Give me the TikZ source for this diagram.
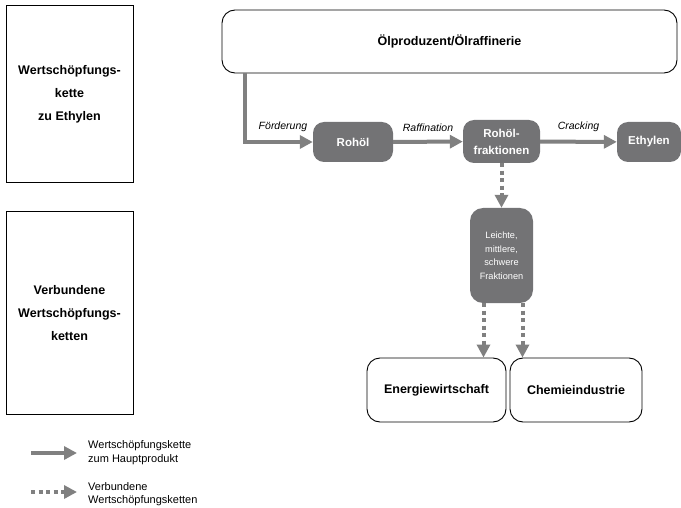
\documentclass[tikz,border=0pt]{standalone}
\usepackage{fontspec}
\setmainfont{Liberation Sans}
\usetikzlibrary{arrows.meta}
\definecolor{arrowgray}{RGB}{128,128,128}
\definecolor{nodegray}{RGB}{115,115,117}
\tikzset{
  sidebox/.style={draw=black, line width=0.8pt, minimum width=127pt, inner sep=0pt, align=center, font=\bfseries\fontsize{12.5}{23}\selectfont},
  whitebox/.style={draw=black, line width=0.9pt, rounded corners=13pt, inner sep=0pt, align=center, font=\bfseries\fontsize{12.5}{14}\selectfont},
  graybox/.style={fill=nodegray, rounded corners=11pt, inner sep=0pt, align=center, text=white, font=\bfseries\fontsize{11.5}{17}\selectfont},
  mainarrow/.style={draw=arrowgray, line width=4pt, -{Triangle[length=13pt,width=13pt]}},
  dasharrow/.style={draw=arrowgray, line width=4pt, dash pattern=on 4pt off 3.5pt, -{Triangle[length=13pt,width=13pt]}},
  arrowlabel/.style={font=\itshape\fontsize{10.5}{12}\selectfont, text=black, above=5pt},
  legendtext/.style={anchor=west, align=left, inner sep=0pt, font=\fontsize{11}{13.5}\selectfont}
}
\begin{document}
\begin{tikzpicture}[x=1pt,y=-1pt]
\useasboundingbox (0,0) rectangle (681,508);
% side boxes
\node[sidebox, minimum height=177pt] (kette) at (69.5,94) {Wertschöpfungs-\\kette\\zu Ethylen};
\node[sidebox, minimum height=203pt] (verb) at (69.5,313) {Verbundene\\Wertschöpfungs-\\ketten};
% top box
\node[whitebox, minimum width=455pt, minimum height=63pt] (oel) at (449.5,41.5) {Ölproduzent/Ölraffinerie};
% gray nodes
\node[graybox, minimum width=80pt, minimum height=40pt] (rohoel) at (353,142) {Rohöl};
\node[graybox, minimum width=77pt, minimum height=43pt] (frak) at (501.5,141.5) {Rohöl-\\fraktionen};
\node[graybox, minimum width=64pt, minimum height=40pt] (eth) at (649,142) {Ethylen};
\node[graybox, minimum width=63pt, minimum height=95pt, rounded corners=13pt, font=\fontsize{9.2}{13.5}\selectfont] (leicht) at (501.5,255.5) {Leichte,\\mittlere,\\schwere\\Fraktionen};
% bottom boxes
\node[whitebox, minimum width=139pt, minimum height=64pt] (energie) at (436.5,390) {Energiewirtschaft};
\node[whitebox, minimum width=132pt, minimum height=64pt] (chemie) at (576,390) {Chemieindustrie};
% main chain
\coordinate (feed) at (245,73);
\draw[mainarrow] (feed) |- node[arrowlabel, pos=0.78] {Förderung} (rohoel.west);
\draw[mainarrow] (rohoel) -- node[arrowlabel] {Raffination} (frak);
\draw[mainarrow] (frak) -- node[arrowlabel] {Cracking} (eth);
% related chains
\draw[dasharrow] (frak.south) -- (leicht.north);
\draw[dasharrow] ([xshift=-18pt]leicht.south) -- ([xshift=-18pt]leicht.south |- energie.north);
\draw[dasharrow] ([xshift=21pt]leicht.south) -- ([xshift=21pt]leicht.south |- chemie.north);
% legend
\coordinate (l1a) at (31,453);
\coordinate (l1b) at (77,453);
\coordinate (l2a) at (31,492);
\coordinate (l2b) at (77,492);
\draw[mainarrow] (l1a) -- (l1b);
\draw[dasharrow] (l2a) -- (l2b);
\node[legendtext] (lt1) at (88,452.5) {Wertschöpfungskette\\zum Hauptprodukt};
\node[legendtext] (lt2) at (88,494) {Verbundene\\Wertschöpfungsketten};
\end{tikzpicture}
\end{document}
